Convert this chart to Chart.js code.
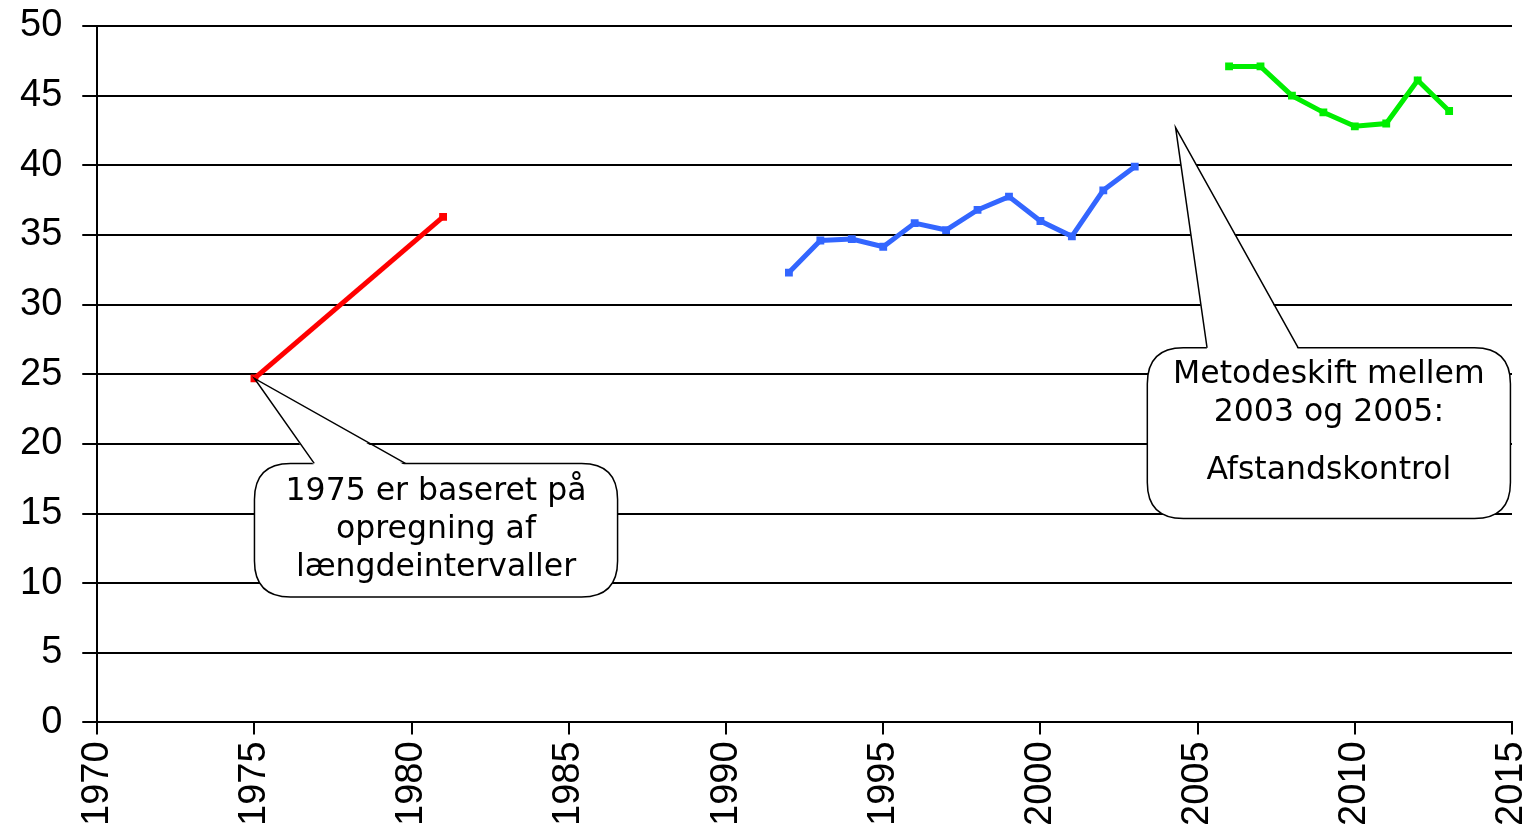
<!DOCTYPE html>
<html>
<head>
<meta charset="utf-8">
<script src="https://cdn.jsdelivr.net/npm/chart.js@4/dist/chart.umd.min.js"></script>
<style>
  html, body { margin: 0; padding: 0; background: #fff; }
  #wrap { width: 1522px; height: 833px; }
</style>
</head>
<body>
<div id="wrap"><canvas id="graf"></canvas></div>
<script>
// Data
const aarRoed = [1975, 1981];
const vaerdiRoed = [24.7, 36.3];

const aarBlaa = [1992, 1993, 1994, 1995, 1996, 1997, 1998, 1999, 2000, 2001, 2002, 2003];
const vaerdiBlaa = [32.3, 34.6, 34.7, 34.15, 35.85, 35.35, 36.8, 37.75, 36.0, 34.9, 38.2, 39.9];

const aarGroen = [2006, 2007, 2008, 2009, 2010, 2011, 2012, 2013];
const vaerdiGroen = [47.1, 47.1, 45.0, 43.8, 42.8, 43.0, 46.1, 43.9];

const xTicks = [1970, 1975, 1980, 1985, 1990, 1995, 2000, 2005, 2010, 2015];
const yTicks = [0, 5, 10, 15, 20, 25, 30, 35, 40, 45, 50];

// Tekstbokse (i dataenheder): boks, spids og tekstlinjer
const kommentarer = [
    {
        boks: [1975.0, 1986.55, 9.0, 18.6],
        basis: [1976.9, 1979.8],
        spids: [1975, 24.7],
        linjer: ['1975 er baseret på', 'opregning af', 'længdeintervaller'],
        linjeY: [16.55, 13.85, 11.1]
    },
    {
        boks: [2003.4, 2014.95, 14.65, 26.9],
        basis: [2005.3, 2008.2],
        spids: [2004.3, 42.7],
        linjer: ['Metodeskift mellem', '2003 og 2005:', 'Afstandskontrol'],
        linjeY: [24.95, 22.25, 18.05]
    }
];

function saet(aar, vaerdi) {
    return aar.map((a, i) => ({ x: a, y: vaerdi[i] }));
}

function rundRekt(ctx, x, y, w, h, r) {
    ctx.beginPath();
    ctx.moveTo(x + r, y);
    ctx.lineTo(x + w - r, y);
    ctx.quadraticCurveTo(x + w, y, x + w, y + r);
    ctx.lineTo(x + w, y + h - r);
    ctx.quadraticCurveTo(x + w, y + h, x + w - r, y + h);
    ctx.lineTo(x + r, y + h);
    ctx.quadraticCurveTo(x, y + h, x, y + h - r);
    ctx.lineTo(x, y + r);
    ctx.quadraticCurveTo(x, y, x + r, y);
    ctx.closePath();
}

// Plugin til tegning af talebobler
const boblePlugin = {
    id: 'bobler',
    afterDatasetsDraw(chart) {
        const ctx = chart.ctx;
        const xs = chart.scales.x, ys = chart.scales.y;
        ctx.save();
        kommentarer.forEach(k => {
            const x1 = xs.getPixelForValue(k.boks[0]);
            const x2 = xs.getPixelForValue(k.boks[1]);
            const yTop = ys.getPixelForValue(k.boks[3]);
            const yBund = ys.getPixelForValue(k.boks[2]);
            const b1 = xs.getPixelForValue(k.basis[0]);
            const b2 = xs.getPixelForValue(k.basis[1]);
            const sx = xs.getPixelForValue(k.spids[0]);
            const sy = ys.getPixelForValue(k.spids[1]);

            ctx.lineWidth = 1.5;
            ctx.strokeStyle = '#000';
            ctx.fillStyle = '#fff';
            rundRekt(ctx, x1, yTop, x2 - x1, yBund - yTop, 36);
            ctx.fill();
            ctx.stroke();

            // spids
            ctx.beginPath();
            ctx.moveTo(b1, yTop + 2);
            ctx.lineTo(sx, sy);
            ctx.lineTo(b2, yTop + 2);
            ctx.closePath();
            ctx.fill();
            ctx.beginPath();
            ctx.moveTo(b1, yTop);
            ctx.lineTo(sx, sy);
            ctx.lineTo(b2, yTop);
            ctx.stroke();

            ctx.fillStyle = '#000';
            ctx.font = '31.5px "DejaVu Sans"';
            ctx.textAlign = 'center';
            ctx.textBaseline = 'middle';
            const cx = (x1 + x2) / 2;
            k.linjer.forEach((t, i) => {
                ctx.fillText(t, cx, ys.getPixelForValue(k.linjeY[i]));
            });
        });
        ctx.restore();
    }
};

const linjeStil = {
    borderWidth: 5,
    pointRadius: 2,
    pointStyle: 'rect',
    tension: 0,
    fill: false
};

new Chart(document.getElementById('graf').getContext('2d'), {
    type: 'line',
    data: {
        datasets: [
            Object.assign({ data: saet(aarRoed, vaerdiRoed), borderColor: '#ff0000', backgroundColor: '#ff0000' }, linjeStil),
            Object.assign({ data: saet(aarBlaa, vaerdiBlaa), borderColor: '#3366ff', backgroundColor: '#3366ff' }, linjeStil),
            Object.assign({ data: saet(aarGroen, vaerdiGroen), borderColor: '#00ee00', backgroundColor: '#00ee00' }, linjeStil)
        ]
    },
    options: {
        responsive: true,
        maintainAspectRatio: false,
        animation: false,
        layout: { padding: { top: 0, right: 0, left: 0, bottom: 0 } },
        plugins: {
            legend: { display: false },
            tooltip: { enabled: false }
        },
        scales: {
            x: {
                type: 'linear',
                min: 1970,
                max: 2015,
                afterBuildTicks: ax => { ax.ticks = xTicks.map(v => ({ value: v })); },
                afterFit: ax => { ax.paddingRight = 10; },
                ticks: {
                    color: '#000',
                    font: { family: 'Liberation Sans', size: 38 },
                    minRotation: 90,
                    maxRotation: 90,
                    padding: 7,
                    autoSkip: false,
                    callback: v => String(v)
                },
                grid: {
                    drawOnChartArea: false,
                    color: '#000',
                    lineWidth: 2,
                    tickLength: 12,
                    tickColor: '#000'
                },
                border: { color: '#000', width: 2 }
            },
            y: {
                min: 0,
                max: 50,
                afterBuildTicks: ax => { ax.ticks = yTicks.map(v => ({ value: v })); },
                afterFit: ax => { ax.paddingTop = 26; },
                ticks: {
                    color: '#000',
                    font: { family: 'Liberation Sans', size: 38 },
                    padding: 20,
                    callback: v => String(v)
                },
                grid: {
                    color: '#000',
                    lineWidth: 2,
                    tickLength: 15
                },
                border: { color: '#000', width: 2 }
            }
        }
    },
    plugins: [boblePlugin]
});
</script>
</body>
</html>
